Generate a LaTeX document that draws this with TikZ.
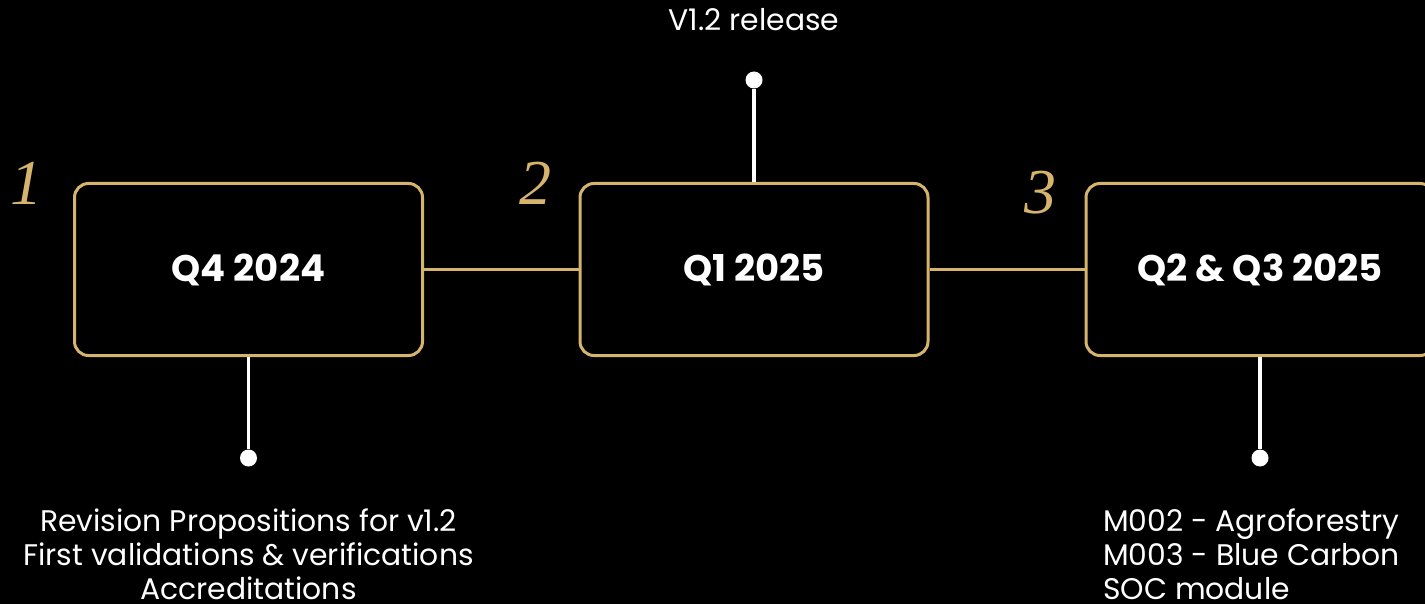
\documentclass[tikz,border=0pt]{standalone}
\usepackage{fontspec}
\setmainfont{Poppins}
\newfontfamily\numfont{Liberation Serif}
\usepackage{tikz}
\usetikzlibrary{positioning}

\definecolor{gold}{RGB}{215,180,110}

\begin{document}
\begin{tikzpicture}[
  x=1pt, y=-1pt,
  phase/.style={draw=gold, line width=3pt, rounded corners=14pt, minimum width=348pt, minimum height=172pt, text=white, font=\fontsize{37}{42}\selectfont\bfseries},
  link/.style={draw=gold, line width=3pt},
  stem/.style={draw=white, line width=3.5pt},
  dot/.style={circle, fill=white, inner sep=0pt, minimum size=17pt},
  note/.style={text=white, inner sep=0pt, font=\fontsize{29.8}{34}\selectfont},
  num/.style={text=gold, inner sep=0pt, font=\fontsize{64}{64}\selectfont\numfont\itshape}
]
\fill[black] (0,0) rectangle (1425,604);
\useasboundingbox (0,0) rectangle (1425,604);

% phases
\node[phase] (q4) at (248.5,269.5) {Q4 2024};
\node[phase] (q1) at (754,269.5) {Q1 2025};
\node[phase] (q23) at (1260,269.5) {Q2 \& Q3 2025};

\node[num] (n1) at (26,183) {1};
\node[num] (n2) at (535,183) {2};
\node[num] (n3) at (1040,193) {3};

\draw[link] (q4) -- (q1);
\draw[link] (q1) -- (q23);

% milestones
\node[dot] (d1) at (248.5,458) {};
\node[dot] (d2) at (754,80) {};
\node[dot] (d3) at (1260,458) {};
\draw[stem] (q4.south) -- (d1);
\draw[stem] (q1.north) -- (d2);
\draw[stem] (q23.south) -- (d3);

\node[note, align=center] (t2) at (754,20) {V1.2 release};
\node[note, align=center] (t1) at (248.5,554) {Revision Propositions for v1.2\\First validations \& verifications\\Accreditations};
\node[note, align=left, anchor=west] (t3) at (1103,554) {M002 - Agroforestry\\M003 - Blue Carbon\\SOC module};
\end{tikzpicture}
\end{document}
